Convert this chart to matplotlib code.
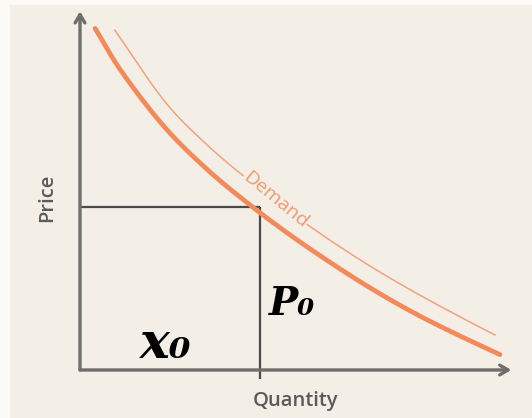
import matplotlib
matplotlib.use("Agg")
import matplotlib.pyplot as plt
from matplotlib.patches import Rectangle
import numpy as np

# Data (arbitrary units: quantity 0..10, price 0..10)
demand_q = [0.36, 1.0, 2.0, 3.0, 4.0, 5.0, 6.0, 7.0, 8.0, 9.0, 10.0]
demand_p = [9.76, 8.51, 6.96, 5.76, 4.76, 3.86, 3.04, 2.28, 1.60, 1.00, 0.44]
shift_q = [0.83, 2.0, 3.0, 4.0, 5.0, 6.0, 7.0, 8.0, 9.0, 9.88]
shift_p = [9.71, 7.70, 6.46, 5.44, 4.51, 3.67, 2.90, 2.20, 1.55, 1.00]
q0 = 4.29
p0 = 4.65
x_label = "Quantity"
y_label = "Price"
curve_label = "Demand"
area_label_left = "x\u2080"
area_label_right = "P\u2080"

W, H = 532, 418
fig = plt.figure(figsize=(W / 100, H / 100), dpi=100)
fig.patch.set_facecolor("#fbfaf7")
fig.add_artist(Rectangle((10 / W, 0), 1 - 10 / W, 1 - 5 / H, transform=fig.transFigure,
                         facecolor="#f3eee6", edgecolor="none", zorder=0))

x0px, x1px = 80, 500
y0px, y1px = 370, 20
ax = fig.add_axes([x0px / W, 1 - y0px / H, (x1px - x0px) / W, (y0px - y1px) / H])
ax.set_xlim(0, 10)
ax.set_ylim(0, 10)
ax.set_facecolor("none")
for s in ax.spines.values():
    s.set_visible(False)
ax.set_xticks([])
ax.set_yticks([])

axis_color = "#6e6e6a"
arrow = dict(arrowstyle="->,head_length=0.6,head_width=0.35", color=axis_color, lw=2.4,
             shrinkA=0, shrinkB=0)
ax.annotate("", xy=(10.27, 0), xytext=(0, 0), arrowprops=arrow, annotation_clip=False)
ax.annotate("", xy=(0, 10.25), xytext=(0, 0), arrowprops=arrow, annotation_clip=False)

# box lines
ax.plot([0, q0], [p0, p0], color="#4a4a48", lw=1.6, solid_capstyle="butt", clip_on=False)
ax.plot([q0, q0], [p0, -0.25], color="#4a4a48", lw=1.6, solid_capstyle="butt", clip_on=False)


def catmull_rom(xs, ys, n=20):
    p = np.column_stack([xs, ys]).astype(float)
    p = np.vstack([2 * p[0] - p[1], p, 2 * p[-1] - p[-2]])
    out = []
    t = np.linspace(0, 1, n, endpoint=False)[:, None]
    for i in range(1, len(p) - 2):
        a, b, c, d = p[i - 1], p[i], p[i + 1], p[i + 2]
        seg = 0.5 * ((2 * b) + (-a + c) * t + (2 * a - 5 * b + 4 * c - d) * t ** 2
                     + (-a + 3 * b - 3 * c + d) * t ** 3)
        out.append(seg)
    out.append(p[-2][None, :])
    r = np.vstack(out)
    return r[:, 0], r[:, 1]


sx, sy = catmull_rom(shift_q, shift_p)
ax.plot(sx, sy, color="#f2a27c", lw=1.1, clip_on=False, zorder=2)
dx, dy = catmull_rom(demand_q, demand_p)
ax.plot(dx, dy, color="#f4895a", lw=3.4, solid_capstyle="round", clip_on=False, zorder=3)

ax.text(4.65, 4.86, curve_label, rotation=-39.5, rotation_mode="anchor", ha="center", va="center",
        color="#f09a72", fontsize=14, family=["Open Sans", "DejaVu Sans"], zorder=4,
        bbox=dict(facecolor="#f3eee6", edgecolor="none", pad=0.3))

fig.text(47 / W, 1 - 198 / H, y_label, rotation=90, ha="center", va="center",
         color="#5a5a58", fontsize=14.5, family=["Open Sans", "DejaVu Sans"], fontweight="semibold")
fig.text(295 / W, 1 - 401 / H, x_label, ha="center", va="center",
         color="#5a5a58", fontsize=14.5, family=["Open Sans", "DejaVu Sans"], fontweight="semibold")

ax.text(2.05, 0.72, area_label_left, ha="center", va="center", color="black", fontsize=36,
        family=["DejaVu Serif", "DejaVu Sans"], fontweight="bold", fontstyle="italic")
ax.text(5.05, 1.88, area_label_right, ha="center", va="center", color="black", fontsize=28,
        family=["DejaVu Serif", "DejaVu Sans"], fontweight="bold", fontstyle="italic")

fig.savefig("out.png", dpi=100, facecolor=fig.get_facecolor())
